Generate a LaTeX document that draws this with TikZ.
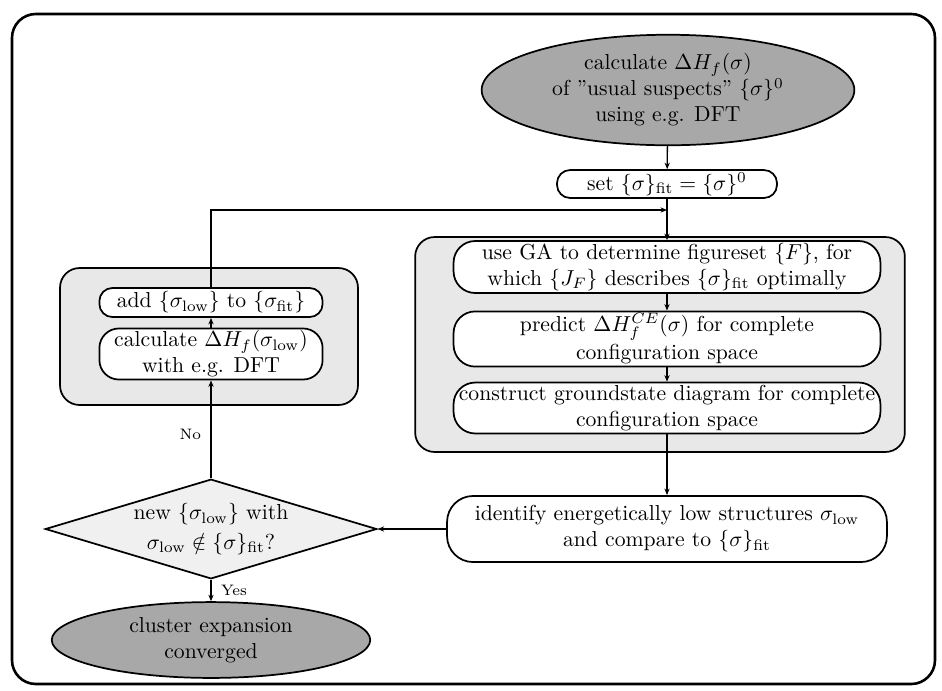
\documentclass[tikz,border=0pt]{standalone}
\usetikzlibrary{shapes.geometric,arrows.meta}
\definecolor{darkfill}{gray}{0.66}
\definecolor{groupfill}{gray}{0.91}
\definecolor{diafill}{gray}{0.94}
\begin{document}
\begin{tikzpicture}[x=0.4615pt,y=-0.4615pt,
  pill/.style={draw,line width=0.8pt,fill=white,rounded corners=#1,align=center,inner sep=1pt},
  pill/.default=10pt,
  group/.style={draw,line width=0.8pt,fill=groupfill,rounded corners=9pt,inner sep=0pt},
  term/.style={draw,line width=0.8pt,fill=darkfill,ellipse,align=center,inner sep=0pt},
  decide/.style={draw,line width=0.8pt,fill=diafill,diamond,aspect=3.3,align=center,inner sep=0pt},
  arr/.style={line width=0.6pt,-{Stealth[length=3pt,width=2.4pt]}},
  lbl/.style={font=\scriptsize}
]
\useasboundingbox (0,0) rectangle (942,690);
\draw[line width=1.2pt,rounded corners=11pt] (12,14) rectangle (935,684);

% groups
\node[group,minimum width=226pt,minimum height=99.2pt] (gright) at (660,344.5) {};
\node[group,minimum width=137.5pt,minimum height=63.2pt] (gleft) at (209,336.5) {};

% nodes
\node[term,minimum width=172pt,minimum height=51pt] (start) at (668,90)
  {calculate $\Delta H_f(\sigma)$\\of ''usual suspects'' $\{\sigma\}^0$\\using e.g. DFT};
\node[pill=6pt,minimum width=101.5pt,minimum height=12.9pt] (set) at (667,184)
  {set $\{\sigma\}_{\mathrm{fit}}=\{\sigma\}^0$};
\coordinate (join) at (667,210);
\node[pill,minimum width=197pt,minimum height=23.5pt] (ga) at (667,267)
  {use GA to determine figureset $\{F\}$, for\\which $\{J_F\}$ describes $\{\sigma\}_{\mathrm{fit}}$ optimally};
\node[pill,minimum width=197pt,minimum height=23.5pt] (pred) at (667,339)
  {predict $\Delta H_f^{CE}(\sigma)$ for complete\\[1pt]configuration space};
\node[pill,minimum width=197pt,minimum height=23.5pt] (gs) at (667,408)
  {construct groundstate diagram for complete\\configuration space};
\node[pill=12pt,minimum width=203pt,minimum height=30.5pt] (ident) at (667,529)
  {identify energetically low structures $\sigma_{\mathrm{low}}$\\and compare to $\{\sigma\}_{\mathrm{fit}}$};
\node[decide,minimum width=153pt,minimum height=46pt] (dec) at (211,529)
  {new $\{\sigma_{\mathrm{low}}\}$ with\\[1.5pt]$\sigma_{\mathrm{low}}\notin\{\sigma\}_{\mathrm{fit}}$?};
\node[pill=9pt,minimum width=103pt,minimum height=19.4pt] (calc) at (211,354)
  {calculate $\Delta H_f(\sigma_{\mathrm{low}})$\\with e.g. DFT};
\node[pill=6pt,minimum width=103pt,minimum height=13.4pt] (add) at (211,302.5)
  {add $\{\sigma_{\mathrm{low}}\}$ to $\{\sigma_{\mathrm{fit}}\}$};
\node[term,minimum width=147pt,minimum height=35pt] (stop) at (211,640)
  {cluster expansion\\converged};

% connectors
\draw[arr] (start) -- (set);
\draw[arr] (set) -- (ga);
\draw[arr] (ga) -- (pred);
\draw[arr] (pred) -- (gs);
\draw[arr] (gs) -- (ident);
\draw[arr] (ident) -- (dec);
\draw[arr] (dec) -- node[lbl,left=1pt,pos=0.45]{No} (calc);
\draw[arr] (calc) -- (add);
\draw[arr] (add.north) |- (join);
\draw[arr] (dec) -- node[lbl,right=1pt,pos=0.5]{Yes} (stop);
\end{tikzpicture}
\end{document}
